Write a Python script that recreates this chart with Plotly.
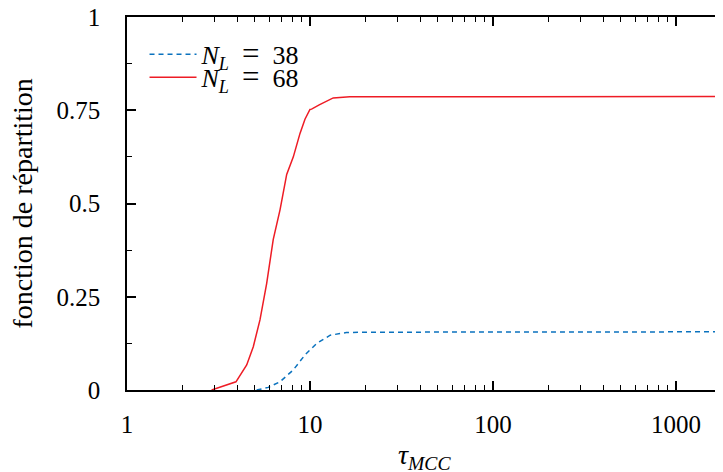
import math
import plotly.graph_objects as go

# N_L = 68 (red, solid)
x68 = [2.9, 3.66, 3.94, 4.51, 4.9, 5.33, 5.8, 6.3, 6.86, 7.46, 8.11, 8.82, 9.39, 10.0, 10.2, 11.3, 13.4, 16.5, 18.8, 100, 1000, 2000]
y68 = [0.0, 0.016, 0.022, 0.067, 0.116, 0.188, 0.286, 0.404, 0.483, 0.578, 0.625, 0.688, 0.726, 0.752, 0.753, 0.765, 0.783, 0.786, 0.786, 0.786, 0.787, 0.787]

# N_L = 38 (blue, dashed)
x38 = [5.11, 5.92, 6.86, 8.11, 9.39, 10.9, 12.9, 15.8, 18.8, 100, 1000, 2000]
y38 = [0.0, 0.007, 0.022, 0.054, 0.094, 0.125, 0.147, 0.154, 0.155, 0.155, 0.156, 0.156]

xticks = [1, 10, 100, 1000]
xticklabels = ["1", "10", "100", "1000"]
yticks = [0, 0.25, 0.5, 0.75, 1]
yticklabels = ["0", "0.25", "0.5", "0.75", "1"]

FONT = "Liberation Serif"
FS = 25

EQ = "\u2002<span style='font-size:31px'>=</span>\u2002"

fig = go.Figure()
fig.add_trace(go.Scatter(x=x38, y=y38, mode="lines",
                         name="<i>N</i><sub><i>L</i></sub>" + EQ + "38", legend="legend",
                         line=dict(color="#0a72be", width=1.5, dash="5px,4px")))
fig.add_trace(go.Scatter(x=x68, y=y68, mode="lines",
                         name="<i>N</i><sub><i>L</i></sub>" + EQ + "68", legend="legend2",
                         line=dict(color="#ee1c25", width=1.5)))

leg_common = dict(xanchor="left", yanchor="middle", bgcolor="rgba(0,0,0,0)",
                  font=dict(family=FONT, size=26), itemwidth=47, borderwidth=0)

fig.update_layout(
    width=723, height=472,
    margin=dict(l=119, r=0, t=9, b=90, autoexpand=False),
    plot_bgcolor="white", paper_bgcolor="white",
    font=dict(family=FONT, size=FS, color="black"),
    showlegend=True,
    legend=dict(x=0.029, y=0.9, **leg_common),
    legend2=dict(x=0.029, y=0.838, **leg_common),
    xaxis=dict(type="log", range=[0, math.log10(2000)], automargin=False,
               tickvals=xticks, ticktext=xticklabels,
               ticks="inside", ticklen=9, tickwidth=1.5, tickcolor="black",
               ticklabelstandoff=11, ticklabeloverflow="allow",
               showline=True, linecolor="black", linewidth=1.5, mirror="ticks",
               showgrid=False, zeroline=False,
               minor=dict(ticks="inside", ticklen=5, tickwidth=1.2, tickcolor="black",
                          dtick="D1", showgrid=False)),
    yaxis=dict(range=[0, 1], automargin=False, tickvals=yticks, ticktext=yticklabels,
               ticks="inside", ticklen=9, tickwidth=1.5, tickcolor="black",
               ticklabelstandoff=20, ticklabeloverflow="allow",
               showline=True, linecolor="black", linewidth=1.5, mirror="ticks",
               showgrid=False, zeroline=False,
               minor=dict(ticks="inside", ticklen=5, tickwidth=1.2, tickcolor="black",
                          dtick=0.125, showgrid=False)),
    annotations=[
        dict(text="<i>τ</i><sub><i>MCC</i></sub>", xref="paper", yref="paper",
             x=0, y=0, xshift=297, yshift=-66, xanchor="center", yanchor="middle",
             showarrow=False, font=dict(family=FONT, size=28)),
        dict(text="fonction de répartition", xref="paper", yref="paper",
             x=0, y=0.5, xshift=-105, xanchor="center", yanchor="middle",
             textangle=-90, showarrow=False, font=dict(family=FONT, size=28)),
    ],
)

fig.write_html("out.html")
